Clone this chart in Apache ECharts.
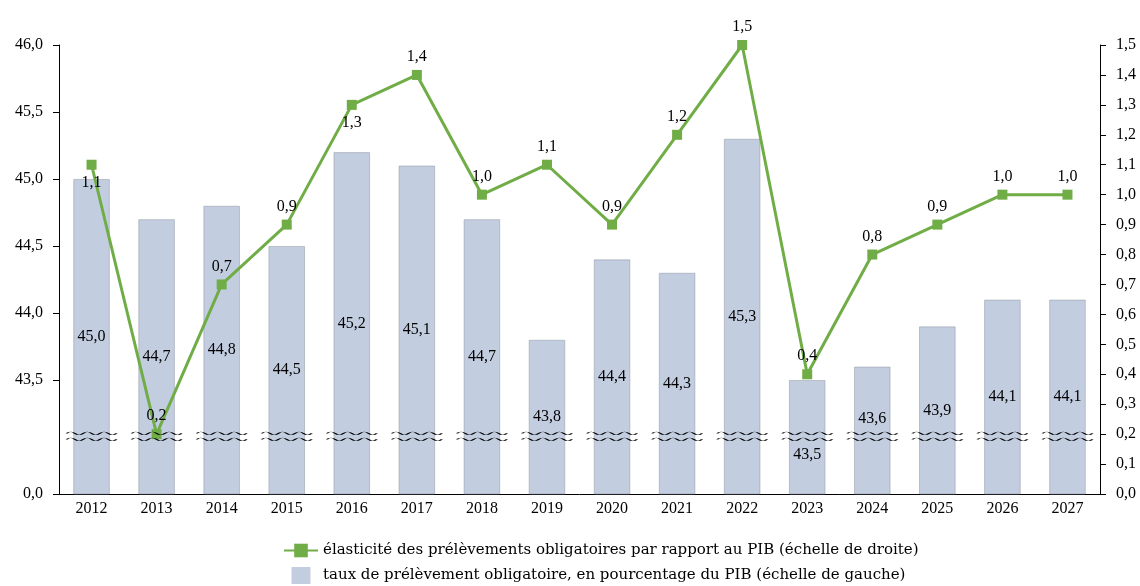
<!DOCTYPE html>
<html>
<head>
<meta charset="utf-8">
<script src="https://cdn.jsdelivr.net/npm/echarts@6/dist/echarts.min.js"></script>
<style>
  html, body { margin: 0; padding: 0; background: #fff; }
  #chart { width: 1140px; height: 586px; }
</style>
</head>
<body>
<div id="chart"></div>
<script>
// années
var years = ["2012", "2013", "2014", "2015", "2016", "2017", "2018", "2019",
  "2020", "2021", "2022", "2023", "2024", "2025", "2026", "2027"];
// taux de prélèvements obligatoires (% PIB) - échelle de gauche
var tauxPO = [45.0, 44.7, 44.8, 44.5, 45.2, 45.1, 44.7, 43.8,
  44.4, 44.3, 45.3, 43.5, 43.6, 43.9, 44.1, 44.1];
// élasticité des PO au PIB - échelle de droite
var elasticite = [1.1, 0.2, 0.7, 0.9, 1.3, 1.4, 1.0, 1.1,
  0.9, 1.2, 1.5, 0.4, 0.8, 0.9, 1.0, 1.0];
// graduations de gauche (axe coupé)
var leftTicks = [42.65, 43.5, 44.0, 44.5, 45.0, 45.5, 46.0];

var lineName = "élasticité des prélèvements obligatoires par rapport au PIB (échelle de droite)";
var barName = "taux de prélèvement obligatoire, en pourcentage du PIB (échelle de gauche)";

var font = "'Liberation Serif', 'DejaVu Serif', serif";
var legendFont = "'DejaVu Serif', serif";
var green = "#70ad47";
var breakAt = 43.08;
var labelsBelow = ["2012", "2016"];
var barLabelNudge = { "2023": 18, "2024": -12 };

function fr(v) {
  return v.toFixed(1).replace(".", ",");
}

var wave = "path://M0,2 Q4,-1 8,2 Q12,5 16,2 Q20,-1 24,2 Q28,5 32,2 Q36,-1 40,2 Q44,5 48,2" +
  " M0,8 Q4,5 8,8 Q12,11 16,8 Q20,5 24,8 Q28,11 32,8 Q36,5 40,8 Q44,11 48,8";

var myChart = echarts.init(document.getElementById("chart"));
myChart.setOption({
  animation: false,
  textStyle: { fontFamily: font },
  grid: { left: 59, right: 40, top: 45, bottom: 92 },
  legend: {
    orient: "vertical",
    left: 283,
    top: 543,
    padding: 0,
    itemWidth: 34,
    itemHeight: 17,
    itemGap: 9,
    itemStyle: { borderWidth: 0 },
    textStyle: { fontFamily: legendFont, fontSize: 15, color: "#000" },
    data: [lineName, { name: barName, icon: "path://M0,0h10v9h-10z" }]
  },
  xAxis: {
    type: "category",
    data: years,
    axisLine: { lineStyle: { color: "#000", width: 1 } },
    axisTick: { show: false },
    axisLabel: { color: "#000", fontSize: 16, fontFamily: font, margin: 7 }
  },
  yAxis: [
    {
      type: "value",
      min: 42.65,
      max: 46,
      splitLine: { show: false },
      axisLine: { show: true, lineStyle: { color: "#000" } },
      axisTick: { show: true, length: 6, customValues: leftTicks, lineStyle: { color: "#000" } },
      axisLabel: {
        customValues: leftTicks,
        color: "#000",
        fontSize: 16,
        fontFamily: font,
        margin: 16,
        formatter: function (v) { return v < 43 ? "0,0" : fr(v); }
      }
    },
    {
      type: "value",
      min: 0,
      max: 1.5,
      interval: 0.1,
      splitLine: { show: false },
      axisLine: { show: true, lineStyle: { color: "#000" } },
      axisTick: { show: true, length: 6, lineStyle: { color: "#000" } },
      axisLabel: {
        color: "#000",
        fontSize: 16,
        fontFamily: font,
        margin: 16,
        formatter: function (v) { return fr(v); }
      }
    }
  ],
  series: [
    {
      name: barName,
      type: "bar",
      yAxisIndex: 0,
      barWidth: "56%",
      z: 1,
      itemStyle: { color: "#c3cde0", borderColor: "rgba(140,145,155,0.6)", borderWidth: 0.8 },
      label: {
        show: true,
        position: "inside",
        color: "#000",
        fontSize: 16,
        fontFamily: font,
        formatter: function (p) { return fr(p.value); }
      },
      data: tauxPO.map(function (v, i) {
        var nudge = barLabelNudge[years[i]];
        return nudge ? { value: v, label: { offset: [0, nudge] } } : v;
      })
    },
    {
      name: lineName,
      type: "line",
      yAxisIndex: 1,
      z: 3,
      symbol: "rect",
      symbolSize: 10,
      lineStyle: { color: green, width: 3 },
      itemStyle: { color: green },
      label: {
        show: true,
        position: "top",
        distance: 5,
        color: "#000",
        fontSize: 16,
        fontFamily: font,
        formatter: function (p) { return fr(p.value); }
      },
      data: elasticite.map(function (v, i) {
        return labelsBelow.indexOf(years[i]) >= 0 ? { value: v, label: { position: "bottom" } } : v;
      })
    },
    {
      name: "coupure",
      type: "scatter",
      yAxisIndex: 0,
      z: 4,
      silent: true,
      symbol: wave,
      symbolSize: [50, 9],
      itemStyle: { color: "rgba(0,0,0,0)", borderColor: "#000", borderWidth: 1, opacity: 1 },
      data: years.map(function () { return breakAt; })
    }
  ]
});
</script>
</body>
</html>
